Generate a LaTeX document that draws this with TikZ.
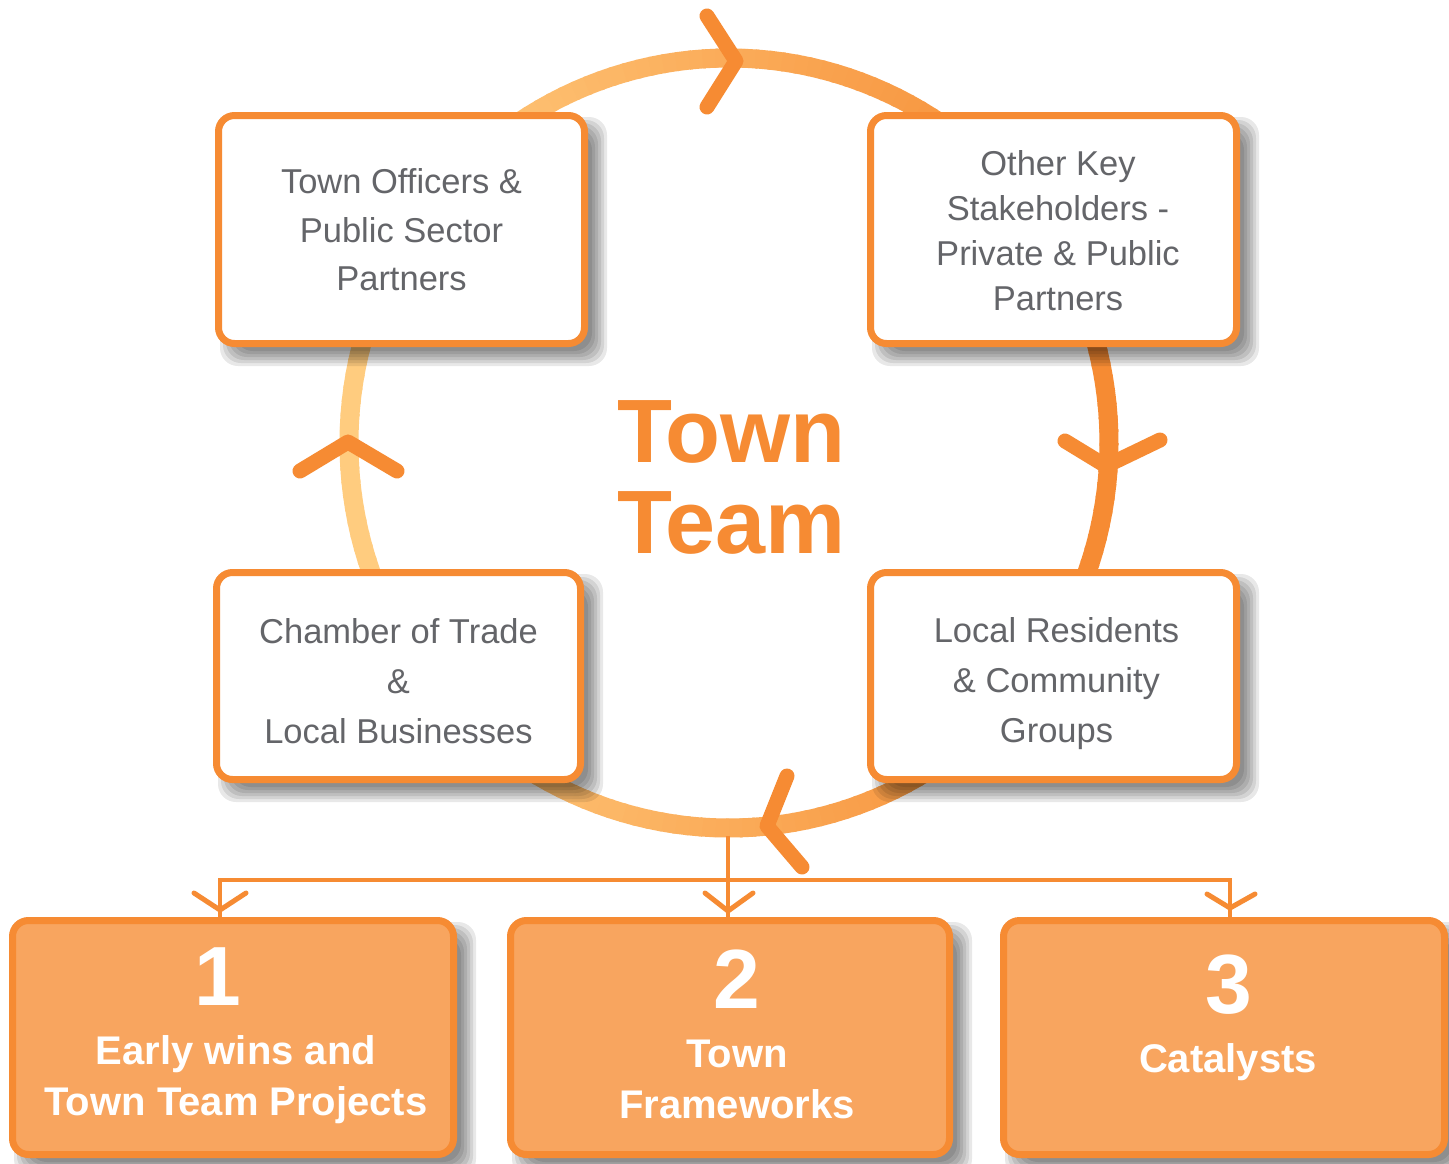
\documentclass[tikz,border=0pt]{standalone}
\usepackage{fontspec}
\setmainfont{Liberation Sans}
\usetikzlibrary{calc}
\definecolor{orD}{HTML}{F68B33}
\definecolor{orL}{HTML}{FFCC7F}
\definecolor{orFill}{HTML}{F8A55F}
\definecolor{txtgray}{HTML}{646569}
\pgfdeclarelayer{bottom}
\pgfdeclarelayer{background}
\pgfsetlayers{bottom,background,main}
\newcommand\mkshadow[1]{%
  \begin{pgfonlayer}{background}
  \foreach \a/\b in {20/4,17/7,14/10,11/13,8/16,5/19}{
    \fill[black,opacity=0.09,rounded corners=18] ($(#1.north west)+(\a,\a)$) rectangle ($(#1.south east)+(\b,\b)$);
  }
  \end{pgfonlayer}}
\newcommand\tstrut[1]{\rule{0pt}{#1pt}}
\tikzset{
  topbox/.style={draw=orD, line width=7, fill=white, rounded corners=16, align=center,
    text=txtgray, inner sep=0, minimum width=366},
  botbox/.style={draw=orD, line width=7, fill=orFill, rounded corners=16,
    minimum width=441, minimum height=234, inner sep=0},
  numtxt/.style={text=white, font=\fontsize{84}{84}\selectfont\bfseries, inner sep=0},
  labtxt/.style={text=white, font=\fontsize{40}{51}\selectfont\bfseries, align=center, inner sep=0},
  conn/.style={draw=orD, line width=4},
  smallchev/.style={draw=orD, line width=5, line cap=round, line join=round},
  bigchev/.style={draw=orD, line width=15, line cap=round, line join=round},
}
\begin{document}
\begin{tikzpicture}[x=1pt,y=-1pt]
\useasboundingbox (0,0) rectangle (1449,1163);
\coordinate (cc) at (729,443);
\begin{pgfonlayer}{bottom}
\fill[white] (0,0) rectangle (1449,1163);
\foreach \a in {0,2,...,358}{
  \pgfmathtruncatemacro\p{max(0,min(100,50+55*cos(\a+1)))}
  \draw[line width=19, color=orD!\p!orL] ($(cc)+({380*cos(\a)},{385*sin(\a)})$)
     arc[start angle=\a, end angle=\a+2.4, x radius=380, y radius=385];
}
\end{pgfonlayer}
% cycle arrowheads
\draw[bigchev] (707,16) -- (736,61) -- (707,107);
\draw[bigchev] (1065,441) -- (1106,466) -- (1160,440);
\draw[bigchev] (300,471) -- (348,442) -- (397,471);
\draw[bigchev] (787,776) -- (767,826) -- (802,867);
% stakeholder boxes
\node[topbox, minimum height=228, font=\fontsize{34.5}{48.5}\selectfont] (tl) at (401.5,229.5)
  {\tstrut{40}Town Officers \&\\\strut Public Sector\\\strut Partners};
\node[topbox, minimum height=228, font=\fontsize{34.5}{45}\selectfont] (tr) at (1053.5,229.5)
  {\hspace*{9pt}\tstrut{39.5}Other Key\\\hspace*{9pt}\strut Stakeholders -\\\hspace*{9pt}\strut Private \& Public\\\hspace*{9pt}\strut Partners};
\node[topbox, minimum width=364, minimum height=207, font=\fontsize{34.5}{50}\selectfont] (bl) at (398.5,676)
  {\tstrut{49}Chamber of Trade\\\strut \&\\\strut Local Businesses};
\node[topbox, minimum height=207, font=\fontsize{34.5}{50}\selectfont] (br) at (1053.5,676)
  {\hspace*{6pt}\tstrut{47}Local Residents\\\hspace*{6pt}\strut \& Community\\\hspace*{6pt}\strut Groups};
% centre title
\node[text=orD, font=\fontsize{90}{91}\selectfont\bfseries, align=center, inner sep=0, anchor=north] (title) at (731.5,398.3)
  {\strut Town\\\strut Team};
% outcome boxes
\node[botbox] (b1) at (233,1037.5) {};
\node[botbox, minimum width=439] (b2) at (730,1037.5) {};
\node[botbox] (b3) at (1224,1037.5) {};
\node[numtxt, anchor=base] (n1) at (218,1005) {1};
\node[labtxt, anchor=north] (l1) at (236,1028.3) {\strut Early wins and\\\strut Town Team Projects};
\node[numtxt, anchor=base] (n2) at (737,1008) {2};
\node[labtxt, anchor=north] (l2) at (737,1031.3) {\strut Town\\\strut Frameworks};
\node[numtxt, anchor=base] (n3) at (1229,1013) {3};
\node[labtxt, anchor=base] (l3) at (1228,1072) {Catalysts};
\mkshadow{tl}\mkshadow{tr}\mkshadow{bl}\mkshadow{br}
\mkshadow{b1}\mkshadow{b2}\mkshadow{b3}
% connectors
\coordinate (cbot) at (728,836);
\coordinate (hub) at (728,880);
\draw[conn] (cbot) -- (cbot |- b2.north);
\draw[conn] (hub) -| ($(b1.north)+(-13,0)$);
\draw[conn] (hub) -| ($(b3.north)+(6,0)$);
\draw[smallchev] ($(b1.north)+(-39,-24)$) -- ($(b1.north)+(-13,-7)$) -- ($(b1.north)+(13,-24)$);
\draw[smallchev] ($(b2.north)+(-25,-24)$) -- ($(b2.north)+(-2,-6)$) -- ($(b2.north)+(23,-24)$);
\draw[smallchev] ($(b3.north)+(-17,-23)$) -- ($(b3.north)+(6,-9)$) -- ($(b3.north)+(31,-23)$);
\end{tikzpicture}
\end{document}
